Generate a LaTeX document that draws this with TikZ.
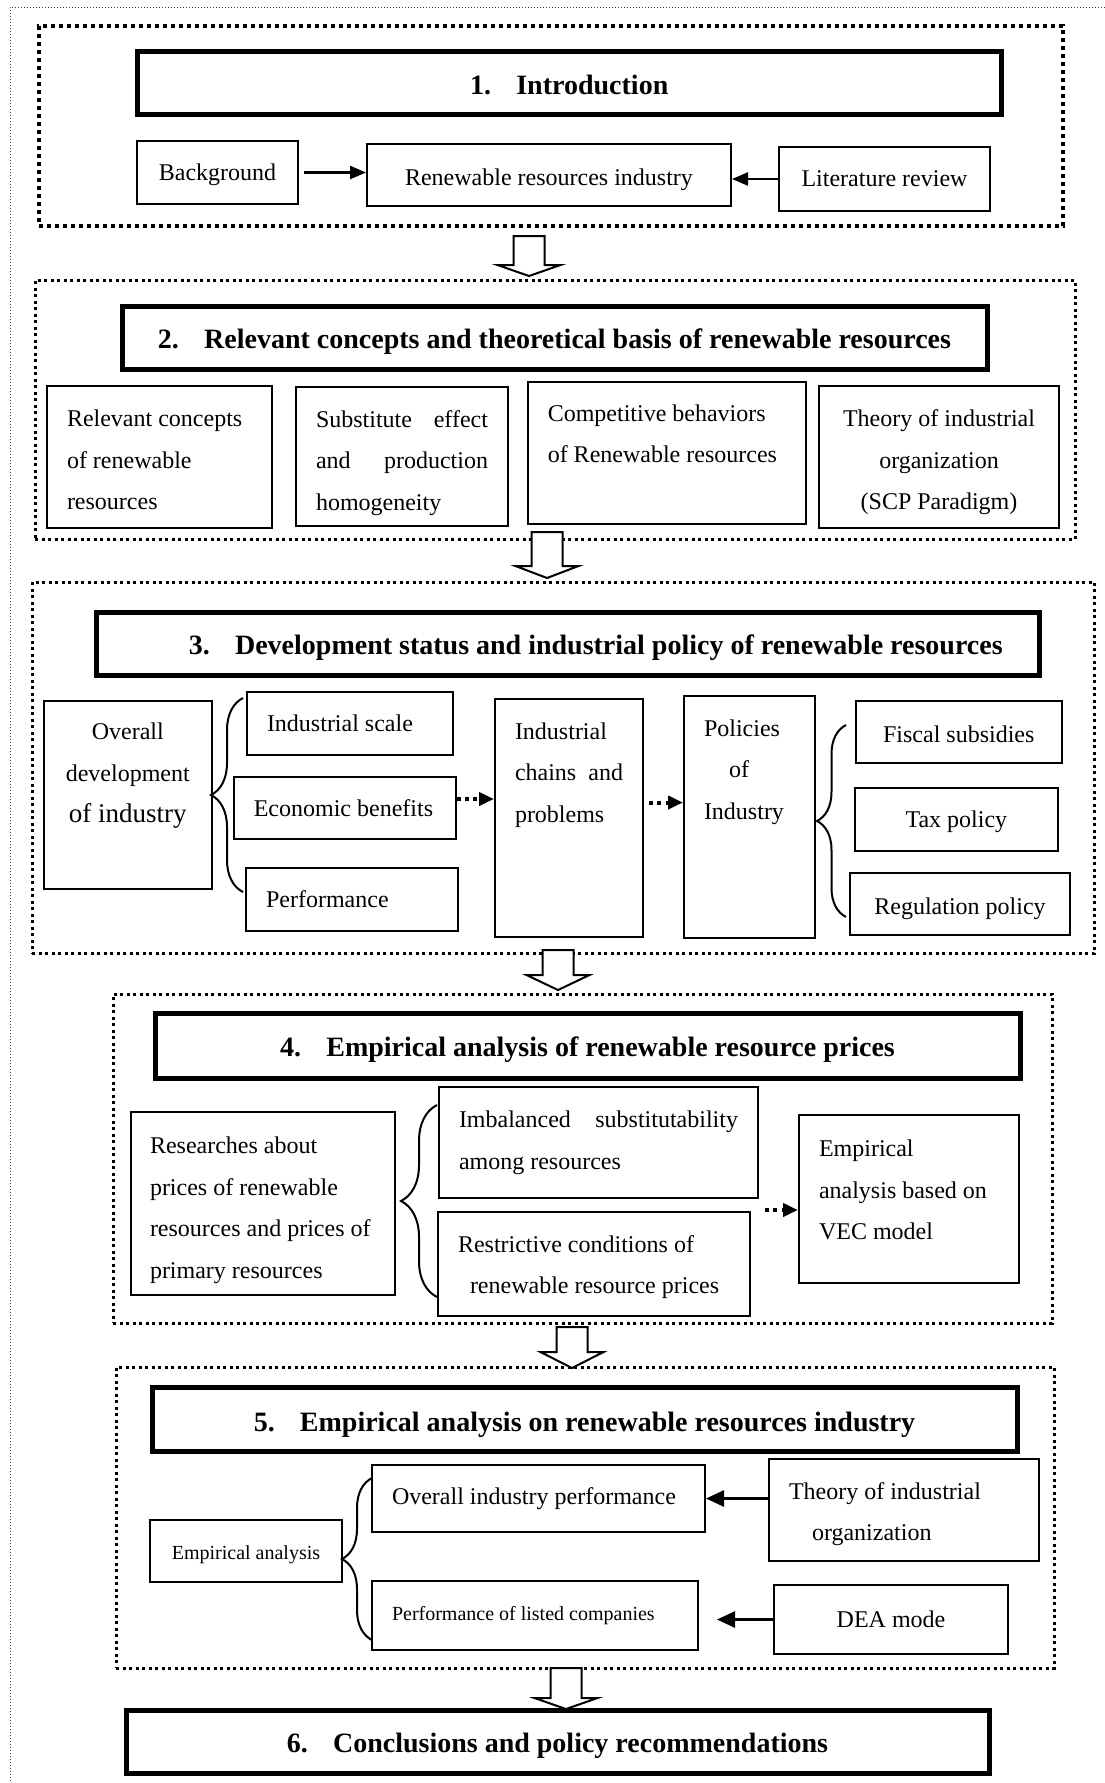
\documentclass[tikz,border=0pt]{standalone}
\usepackage{fontspec}
\setmainfont{Liberation Serif}
\usetikzlibrary{arrows.meta,decorations.pathreplacing}
\newcommand\blockarrow[4]{\draw[barrow] ({#1-15.5},#2) -- ({#1+15.5},#2) -- ({#1+15.5},#3) -- ({#1+31.5},#3) -- (#1,#4) -- ({#1-31.5},#3) -- ({#1-15.5},#3) -- cycle;}
\newcommand\tp[1]{\rule{0pt}{#1}}
\newcommand\up[1]{\rule[-#1]{0pt}{0pt}}
\begin{document}
\begin{tikzpicture}[x=0.5pt,y=-0.5pt,
  rect/.style args={#1/#2/#3/#4}{at={({(#1+#3)/2},{(#2+#4)/2})}, minimum width={(#3-#1)*0.5pt}, minimum height={(#4-#2)*0.5pt}},
  box/.style={draw, line width=1pt, inner sep=0pt, font=\fontsize{12pt}{20.75pt}\selectfont},
  titlebox/.style={draw, line width=2.5pt, inner sep=0pt, font=\fontsize{14pt}{17pt}\selectfont\bfseries},
  secA/.style={draw, line width=2pt, dash pattern=on 2pt off 2pt, inner sep=0pt},
  secB/.style={draw, line width=1.5pt, dash pattern=on 1.5pt off 1.75pt, inner sep=0pt},
  outerline/.style={line width=0.5pt, dash pattern=on 0.5pt off 1pt, black!75},
  solidarrow/.style={line width=1.2pt, -{Triangle[length=8pt,width=6.5pt]}},
  solidarrowB/.style={line width=1.35pt, -{Triangle[length=9pt,width=8pt]}},
  dotarrow/.style={line width=2pt, dash pattern=on 2pt off 2.2pt, -{Triangle[length=7.5pt,width=6.5pt]}},
  curly/.style={decorate, decoration={brace, amplitude=#1}, line width=1pt},
  barrow/.style={draw, fill=white, line width=1pt, line join=miter}]
\useasboundingbox (0,0) rectangle (1104,1783);
\fill[white] (0,0) rectangle (1104,1783);
% outer thin dotted frame
\coordinate (o1) at (10,1790);
\coordinate (o2) at (10,7);
\coordinate (o3) at (1110,7);
\draw[outerline] (o1) -- (o2) -- (o3);

% ---------- Section 1 ----------
\node[secA, rect=39/26/1063/226] (s1) {};
\node[titlebox, rect=137.5/51/1001/114] (t1) {\tp{11.8pt}1.\hspace{0.9em}Introduction};
\node[box, rect=137/141/298/204] (bg) {\tp{10.4pt}Background};
\node[box, rect=367/144/731/206] (ren) {\tp{12.8pt}Renewable resources industry};
\node[box, rect=779/147/990/211] (lit) {Literature review};
\draw[solidarrow, shorten <=2.5pt] (bg.east) -- (bg.east -| ren.west);
\draw[solidarrow] (lit.west) -- (lit.west -| ren.east);

% ---------- Section 2 ----------
\node[secB, rect=35/280/1075/539] (s2) {};
\node[titlebox, rect=122/306/987/369] (t2) {\tp{14.2pt}2.\hspace{0.9em}Relevant concepts and theoretical basis of renewable resources};
\node[box, rect=47/386/271.5/527.5, text width=92.25pt, align=flush left] (c1) {\tp{11.6pt}Relevant concepts\\of renewable\\resources};
\node[box, rect=296/387/508/526, text width=86pt, align=flush left] (c2) {\tp{15pt}Substitute\hfill effect\\and\hfill production\\homogeneity};
\node[box, rect=527.5/382/806/523.6, text width=119pt, align=flush left] (c3) {Competitive behaviors\\of Renewable resources\up{19pt}};
\node[box, rect=819/386/1059/528, align=center] (c4) {\tp{13.9pt}Theory of industrial\\organization\\(SCP Paradigm)};

% ---------- Section 3 ----------
\node[secB, rect=32/582/1094.5/953] (s3) {};
\node[titlebox, rect=96.6/612/1039/675] (t3) {\hspace*{28pt}\tp{14.2pt}3.\hspace{0.9em}Development status and industrial policy of renewable resources};
\node[box, rect=44/701/211.6/889, align=center] (ov) {Overall\\development\\{\fontsize{13.5pt}{20.75pt}\selectfont of industry\up{21.9pt}}};
\node[box, rect=247/692/453/755, text width=83pt, align=flush left] (scale) {Industrial scale};
\node[box, rect=234/777/455.6/839, text width=91pt, align=flush left] (eco) {Economic benefits};
\node[box, rect=246/868/457.7/931, text width=85.8pt, align=flush left] (perf) {Performance};
\node[box, rect=495/699/643/937, text width=54pt, align=flush left] (chains) {\tp{10.4pt}Industrial\\chains\hfill and\\problems\\\strut\\\strut};
\node[box, rect=684/696/815/938, text width=45.5pt, align=flush left] (pol) {Policies\\\hspace*{12.5pt}of\\Industry\\\strut\\\strut};
\node[box, rect=855.5/701/1062/763] (fis) {\tp{10.4pt}Fiscal subsidies};
\node[box, rect=854.7/788/1058/851] (tax) {\tp{10.4pt}Tax policy};
\node[box, rect=850/873/1070/935] (reg) {\tp{12.8pt}Regulation policy};
\coordinate (br3a) at (243,892);
\coordinate (br3b) at (243,698);
\draw[curly=16pt] (br3a) -- (br3b);
\coordinate (br3c) at (846,917);
\coordinate (br3d) at (846,725);
\draw[curly=14.5pt] (br3c) -- (br3d);
\coordinate (e1) at ([yshift=4.5pt]eco.east);
\draw[dotarrow] (e1) -- (e1 -| chains.west);
\coordinate (e2) at ([yshift=7.75pt,xshift=2.5pt]chains.east);
\draw[dotarrow] (e2) -- (e2 -| pol.west);

% ---------- Section 4 ----------
\node[secB, rect=113/994/1052/1323] (s4) {};
\node[titlebox, rect=155/1013/1020/1078] (t4) {\tp{14.2pt}4.\hspace{0.9em}Empirical analysis of renewable resource prices};
\node[box, rect=131/1112/395/1295, text width=113pt, align=flush left] (res) {\tp{15pt}Researches about\\prices of renewable\\resources and prices of\\primary resources};
\node[box, rect=439/1087/758/1198, text width=139.5pt, align=flush left] (imb) {Imbalanced\hfill substitutability\\among resources};
\node[box, rect=438/1212/750/1316, text width=136pt, align=flush left] (restr) {\tp{11.6pt}Restrictive conditions of\\\hspace*{6pt}renewable resource prices};
\node[box, rect=799/1115/1019/1283, text width=90pt, align=flush left] (vec) {Empirical\\analysis based on\\VEC model\up{9.1pt}};
\coordinate (br4a) at (437,1297);
\coordinate (br4b) at (437,1105);
\draw[curly=18pt] (br4a) -- (br4b);
\coordinate (d4) at (765,1210);
\draw[dotarrow] (d4) -- (d4 -| vec.west);

% ---------- Section 5 ----------
\node[secB, rect=116/1367/1054/1668] (s5) {};
\node[titlebox, rect=152/1387/1017/1451] (t5) {\tp{15.3pt}5.\hspace{0.9em}Empirical analysis on renewable resources industry};
\node[box, rect=150/1520/342/1582, font=\fontsize{10pt}{12pt}\selectfont] (ea) {\tp{10.2pt}Empirical analysis};
\node[box, rect=372/1465/705/1532, text width=146.5pt, align=flush left] (op) {Overall industry performance};
\node[box, rect=769/1459/1039/1561, text width=115pt, align=flush left] (th) {\tp{12.6pt}Theory of industrial\\\hspace*{11.5pt}organization};
\node[box, rect=372/1581/698/1650, text width=143pt, align=flush left, font=\fontsize{10pt}{12pt}\selectfont] (pl) {Performance of listed companies};
\node[box, rect=774/1585/1008/1654] (dea) {DEA mode};
\draw[solidarrowB] (op.east -| th.west) -- (op.east);
\draw[solidarrowB, shorten >=9pt] (dea.west) -- (dea.west -| pl.east);
\coordinate (br5a) at (372,1640);
\coordinate (br5b) at (372,1478);
\draw[curly=15pt] (br5a) -- (br5b);

% ---------- Section 6 ----------
\node[titlebox, rect=126/1710/989/1773] (t6) {\tp{14.2pt}6.\hspace{0.9em}Conclusions and policy recommendations};

% ---------- block arrows ----------
\blockarrow{529}{236}{265}{276}
\blockarrow{547}{532}{566}{578}
\blockarrow{558}{950}{975}{990}
\blockarrow{572}{1327}{1352}{1368}
\blockarrow{566}{1668}{1698}{1709}
\end{tikzpicture}
\end{document}
